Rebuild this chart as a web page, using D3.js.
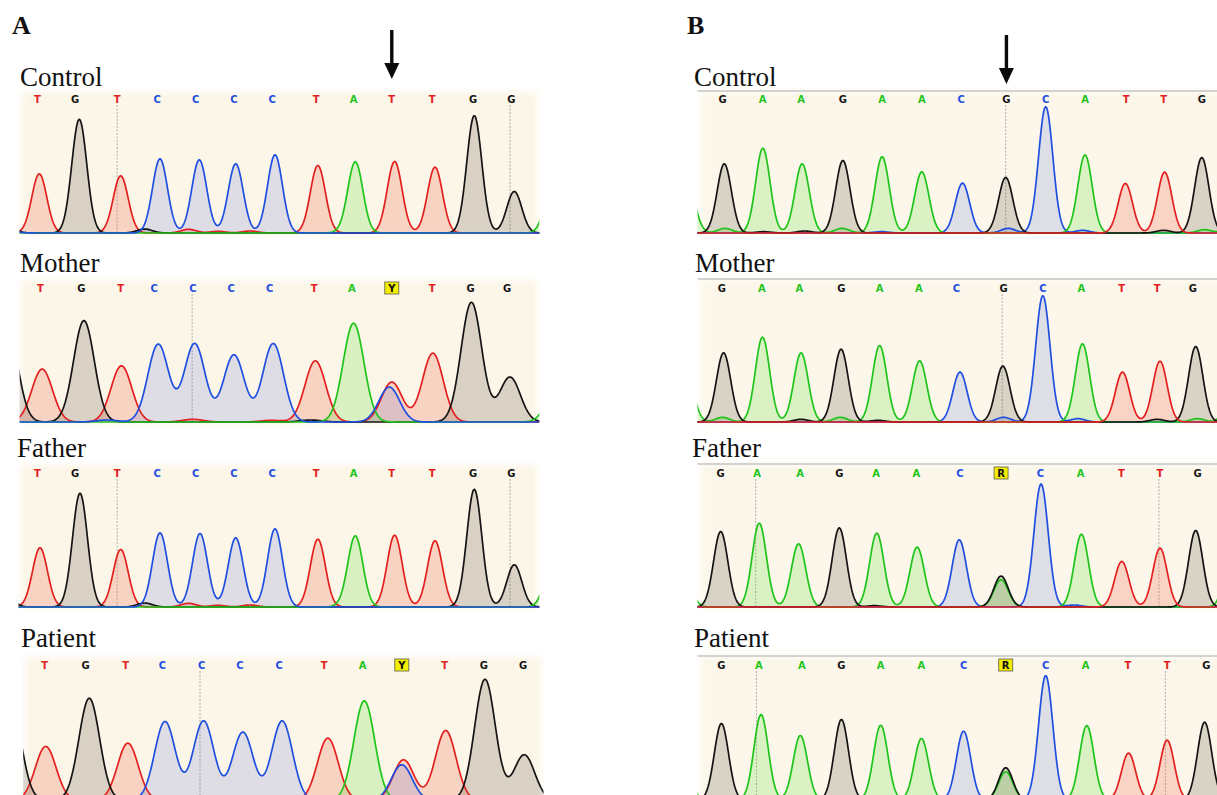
<html>
<head>
<script src="https://d3js.org/d3.v7.min.js"></script>
<style>
  body { margin: 0; background: #fff; }
  .rowLabel { font-family: "Liberation Serif", "Times New Roman", serif; font-size: 27px; fill: #111; }
  .panelLabel { font-family: "Liberation Serif", "Times New Roman", serif; font-size: 26px; font-weight: bold; fill: #111; }
  .call { font-family: "DejaVu Sans", Arial, sans-serif; font-size: 10px; font-weight: bold; text-anchor: middle; }
</style>
</head>
<body>
<svg id="chart" width="1217" height="795"></svg>
<script>
// base calls per row
const callsA    = ["T","G","T","C","C","C","C","T","A","T","T","G","G"];
const callsAHet = ["T","G","T","C","C","C","C","T","A","Y","T","G","G"];
const callsB    = ["G","A","A","G","A","A","C","G","C","A","T","T","G"];
const callsBHet = ["G","A","A","G","A","A","C","R","C","A","T","T","G"];

// call positions in scan units
const aControlCallPos = [105,210,328,440,548,655,762,885,990,1097,1210,1325,1432];
const aMotherCallPos  = [113,228,338,432,540,647,755,880,985,1097,1210,1318,1420];
const aFatherCallPos  = [105,210,328,440,548,655,762,885,990,1097,1210,1325,1432];
const aPatientCallPos = [125,240,352,455,565,672,782,908,1015,1125,1245,1355,1465];
const bControlCallPos = [175,287,395,512,622,733,843,970,1080,1190,1305,1410,1517];
const bMotherCallPos  = [173,285,390,508,615,725,830,962,1072,1180,1293,1392,1492];
const bFatherCallPos  = [170,272,392,502,605,718,840,955,1065,1178,1292,1400,1505];
const bPatientCallPos = [172,277,397,508,618,732,850,968,1080,1192,1310,1420,1530];

// peaks: [base, scan position, signal]
const aControlPeaks = [["G",15,40],["T",110,178],["G",222,342],["T",338,172],["C",448,223],["C",558,220],["C",660,208],["C",770,235],
  ["T",890,203],["A",995,213],["T",1105,215],["T",1218,198],["G",1328,348],["G",1440,125],["A",1545,130],
  ["G",405,12],["T",528,11],["T",610,5],["T",700,6],["C",40,3],["A",960,4],["G",1330,5]];
const aMotherPeaks = [["G",20,290],["T",118,159],["G",235,305],["T",340,169],["C",443,234],["C",545,236],["C",655,202],["C",765,236],
  ["T",883,184],["A",990,297],["T",1097,120],["C",1090,105],["T",1212,207],["G",1320,360],["G",1428,135],["A",1560,100],
  ["C",300,6],["T",540,8],["T",760,5],["G",870,6]];
const aFatherPeaks = [["G",15,40],["T",112,178],["G",224,342],["T",338,173],["C",448,223],["C",560,221],["C",660,208],["C",770,235],
  ["T",890,204],["A",995,213],["T",1105,216],["T",1218,199],["G",1328,349],["G",1440,127],["A",1545,130],
  ["G",405,12],["T",528,11],["T",610,5],["T",700,6],["A",960,4],["G",1330,5]];
const aPatientPeaks = [["G",30,290],["T",128,161],["G",250,306],["T",358,171],["C",462,236],["C",570,238],["C",680,204],["C",790,238],
  ["T",918,186],["A",1020,298],["T",1130,121],["C",1125,106],["T",1248,209],["G",1358,363],["G",1468,136],["A",1590,100]];
const bControlPeaks = [["A",80,130],["G",180,208],["A",288,255],["A",398,208],["G",512,218],["A",622,229],["A",733,184],["C",847,150],
  ["G",968,167],["C",1080,380],["A",1190,235],["T",1303,149],["T",1413,183],["G",1517,227],["A",1620,200],
  ["A",182,14],["G",405,6],["A",510,14],["C",975,14],["C",1183,8],["G",1410,8],["A",1525,10],["G",290,4],["C",620,4]];
const bMotherPeaks = [["A",75,140],["G",178,208],["A",287,255],["A",395,208],["G",507,219],["A",615,230],["A",727,184],["C",840,150],
  ["G",960,168],["C",1072,380],["A",1183,235],["T",1295,150],["T",1400,183],["G",1500,227],["A",1610,220],
  ["A",175,14],["G",395,8],["A",505,14],["G",610,5],["C",962,14],["C",1170,10],["G",1392,8],["A",1505,10]];
const bFatherPeaks = [["A",70,80],["G",170,227],["A",278,252],["A",388,190],["G",502,238],["A",607,222],["A",720,180],["C",838,202],
  ["G",955,93],["A",955,82],["C",1067,370],["A",1180,219],["T",1293,137],["T",1400,177],["G",1500,230],["A",1600,150],
  ["C",1160,6],["G",600,4]];
const bPatientPeaks = [["A",70,80],["G",172,230],["A",283,257],["A",393,194],["G",508,242],["A",618,225],["A",732,185],["C",850,207],
  ["G",968,97],["A",968,85],["C",1080,374],["A",1195,224],["T",1312,141],["T",1420,180],["G",1525,234],["A",1630,150]];

// peak spread per row (scan units)
const peakWidths = [21, 29, 21, 29, 20, 20, 20, 20];

// dashed cursor positions
const aControlDashes = [328, 1428];
const aMotherDashes  = [538];
const aFatherDashes  = [328, 1428];
const aPatientDashes = [560];
const bControlDashes = [968];
const bMotherDashes  = [958];
const bFatherDashes  = [268, 1397];
const bPatientDashes = [270, 1415];

// arrow marks the variant call
const arrowCall = { A: 9, B: 7 };

const rowLabels = ["Control", "Mother", "Father", "Patient"];

const svg = d3.select("#chart");
const defs = svg.append("defs");
defs.append("filter").attr("id", "soft")
    .attr("x", "-5%").attr("y", "-5%").attr("width", "110%").attr("height", "110%")
    .append("feGaussianBlur").attr("stdDeviation", 3);

const lineColor = { A: "#1fc41b", C: "#1f4fe0", G: "#141414", T: "#e32020" };
const fillColor = { A: "rgba(80,220,40,0.20)", C: "rgba(70,95,215,0.16)", G: "rgba(45,38,20,0.17)", T: "rgba(240,85,60,0.22)" };

const xA = d3.scaleLinear().domain([0, 1568]).range([0, 560]);
const xB = d3.scaleLinear().domain([0, 1568]).range([660, 1220]);

const layoutY = [
  { labelY: 86,  top: 91,  letterY: 99,  base: 233 },
  { labelY: 272, top: 279, letterY: 288, base: 422 },
  { labelY: 457, top: 464, letterY: 473, base: 607 },
  { labelY: 647, top: 656, letterY: 665, base: 800 }
];

const rows = [
  { panel: "A", calls: callsA,    pos: aControlCallPos, peaks: aControlPeaks, dashes: aControlDashes, s0: 55, s1: 1510, labelX: 20 },
  { panel: "A", calls: callsAHet, pos: aMotherCallPos,  peaks: aMotherPeaks,  dashes: aMotherDashes,  s0: 55, s1: 1510, labelX: 20 },
  { panel: "A", calls: callsA,    pos: aFatherCallPos,  peaks: aFatherPeaks,  dashes: aFatherDashes,  s0: 52, s1: 1510, labelX: 17 },
  { panel: "A", calls: callsAHet, pos: aPatientCallPos, peaks: aPatientPeaks, dashes: aPatientDashes, s0: 65, s1: 1522, labelX: 21 },
  { panel: "B", calls: callsB,    pos: bControlCallPos, peaks: bControlPeaks, dashes: bControlDashes, s0: 105, s1: 1568, labelX: 694 },
  { panel: "B", calls: callsB,    pos: bMotherCallPos,  peaks: bMotherPeaks,  dashes: bMotherDashes,  s0: 105, s1: 1568, labelX: 695 },
  { panel: "B", calls: callsBHet, pos: bFatherCallPos,  peaks: bFatherPeaks,  dashes: bFatherDashes,  s0: 105, s1: 1568, labelX: 692 },
  { panel: "B", calls: callsBHet, pos: bPatientCallPos, peaks: bPatientPeaks, dashes: bPatientDashes, s0: 105, s1: 1568, labelX: 694 }
];

rows.forEach((r, i) => {
  const ly = layoutY[i % 4];
  const x = r.panel === "A" ? xA : xB;
  const y = d3.scaleLinear().domain([0, 403]).range([ly.base, ly.base - 134]);
  const sigma = peakWidths[i];
  const g = svg.append("g");

  g.append("text").attr("class", "rowLabel").attr("x", r.labelX).attr("y", ly.labelY).text(rowLabels[i % 4]);

  // background
  const bx0 = x(r.s0), bx1 = x(r.s1);
  if (r.panel === "A") {
    g.append("rect").attr("x", bx0 + 2).attr("y", ly.top + 1).attr("width", bx1 - bx0 - 4).attr("height", ly.base - ly.top + 1)
      .attr("fill", "#fcf6e8").attr("filter", "url(#soft)");
  } else {
    g.append("rect").attr("x", bx0 + 3).attr("y", ly.top).attr("width", bx1 - bx0).attr("height", ly.base - ly.top + 2)
      .attr("fill", "#fcf7ea").attr("filter", "url(#soft)");
    g.append("line").attr("x1", bx0).attr("x2", 1217).attr("y1", ly.top).attr("y2", ly.top)
      .attr("stroke", "#c4c4c4").attr("stroke-width", 1.6);
  }

  const clipId = "clip" + i;
  defs.append("clipPath").attr("id", clipId).append("rect")
    .attr("x", bx0).attr("y", ly.top).attr("width", bx1 - bx0).attr("height", ly.base - ly.top + 4);

  // dashed cursors
  g.selectAll("line.dash").data(r.dashes).join("line").attr("class", "dash")
    .attr("x1", d => x(d)).attr("x2", d => x(d))
    .attr("y1", ly.letterY + 6).attr("y2", ly.base)
    .attr("stroke", "#9a9a9a").attr("stroke-width", 0.8).attr("stroke-dasharray", "2,1.5");

  // traces
  const samples = d3.range(r.s0 - 4, r.s1 + 4, 2);
  const signal = (base, s) => d3.sum(r.peaks.filter(p => p[0] === base),
    p => p[2] * Math.exp(-((s - p[1]) ** 2) / (2 * sigma * sigma)));
  const order = r.panel === "A" ? ["T", "G", "A", "C"] : ["C", "A", "G", "T"];
  const traces = order.map(b => ({ base: b, pts: samples.map(s => [s, signal(b, s)]) }));

  const tg = g.append("g").attr("clip-path", "url(#" + clipId + ")");
  const area = d3.area().x(d => x(d[0])).y0(y(0)).y1(d => y(d[1]));
  const line = d3.line().x(d => x(d[0])).y(d => y(d[1]));

  tg.selectAll("path.fill").data(traces).join("path").attr("class", "fill")
    .attr("d", d => area(d.pts)).attr("fill", d => fillColor[d.base]);
  tg.selectAll("path.trace").data(traces).join("path").attr("class", "trace")
    .attr("d", d => line(d.pts)).attr("fill", "none")
    .attr("stroke", d => lineColor[d.base]).attr("stroke-width", 1.7).attr("stroke-linejoin", "round");

  // base calls
  const callData = r.calls.map((c, k) => ({ c, p: r.pos[k] }));
  g.selectAll("rect.amb").data(callData.filter(d => d.c === "Y" || d.c === "R")).join("rect").attr("class", "amb")
    .attr("x", d => x(d.p) - 7).attr("y", ly.letterY - 6).attr("width", 14).attr("height", 12)
    .attr("fill", "#f4ee00").attr("stroke", "#6b6b50").attr("stroke-width", 0.9);
  g.selectAll("text.call").data(callData).join("text").attr("class", "call")
    .attr("x", d => x(d.p)).attr("y", ly.letterY + 3.6)
    .attr("fill", d => lineColor[d.c] || "#111")
    .text(d => d.c);
});

// panel letters and arrows
[["A", 12, xA, aControlCallPos, 30], ["B", 687, xB, bControlCallPos, 35]].forEach(([p, lx, x, pos, ay]) => {
  svg.append("text").attr("class", "panelLabel").attr("x", lx).attr("y", 34).text(p);
  const ax = x(pos[arrowCall[p]]);
  svg.append("rect").attr("x", ax - 1.7).attr("y", ay).attr("width", 3.4).attr("height", 35).attr("fill", "#0a0a0a");
  svg.append("path").attr("d", `M${ax - 7.5},${ay + 33} L${ax + 7.5},${ay + 33} L${ax},${ay + 49} Z`).attr("fill", "#0a0a0a");
});
</script>
</body>
</html>
